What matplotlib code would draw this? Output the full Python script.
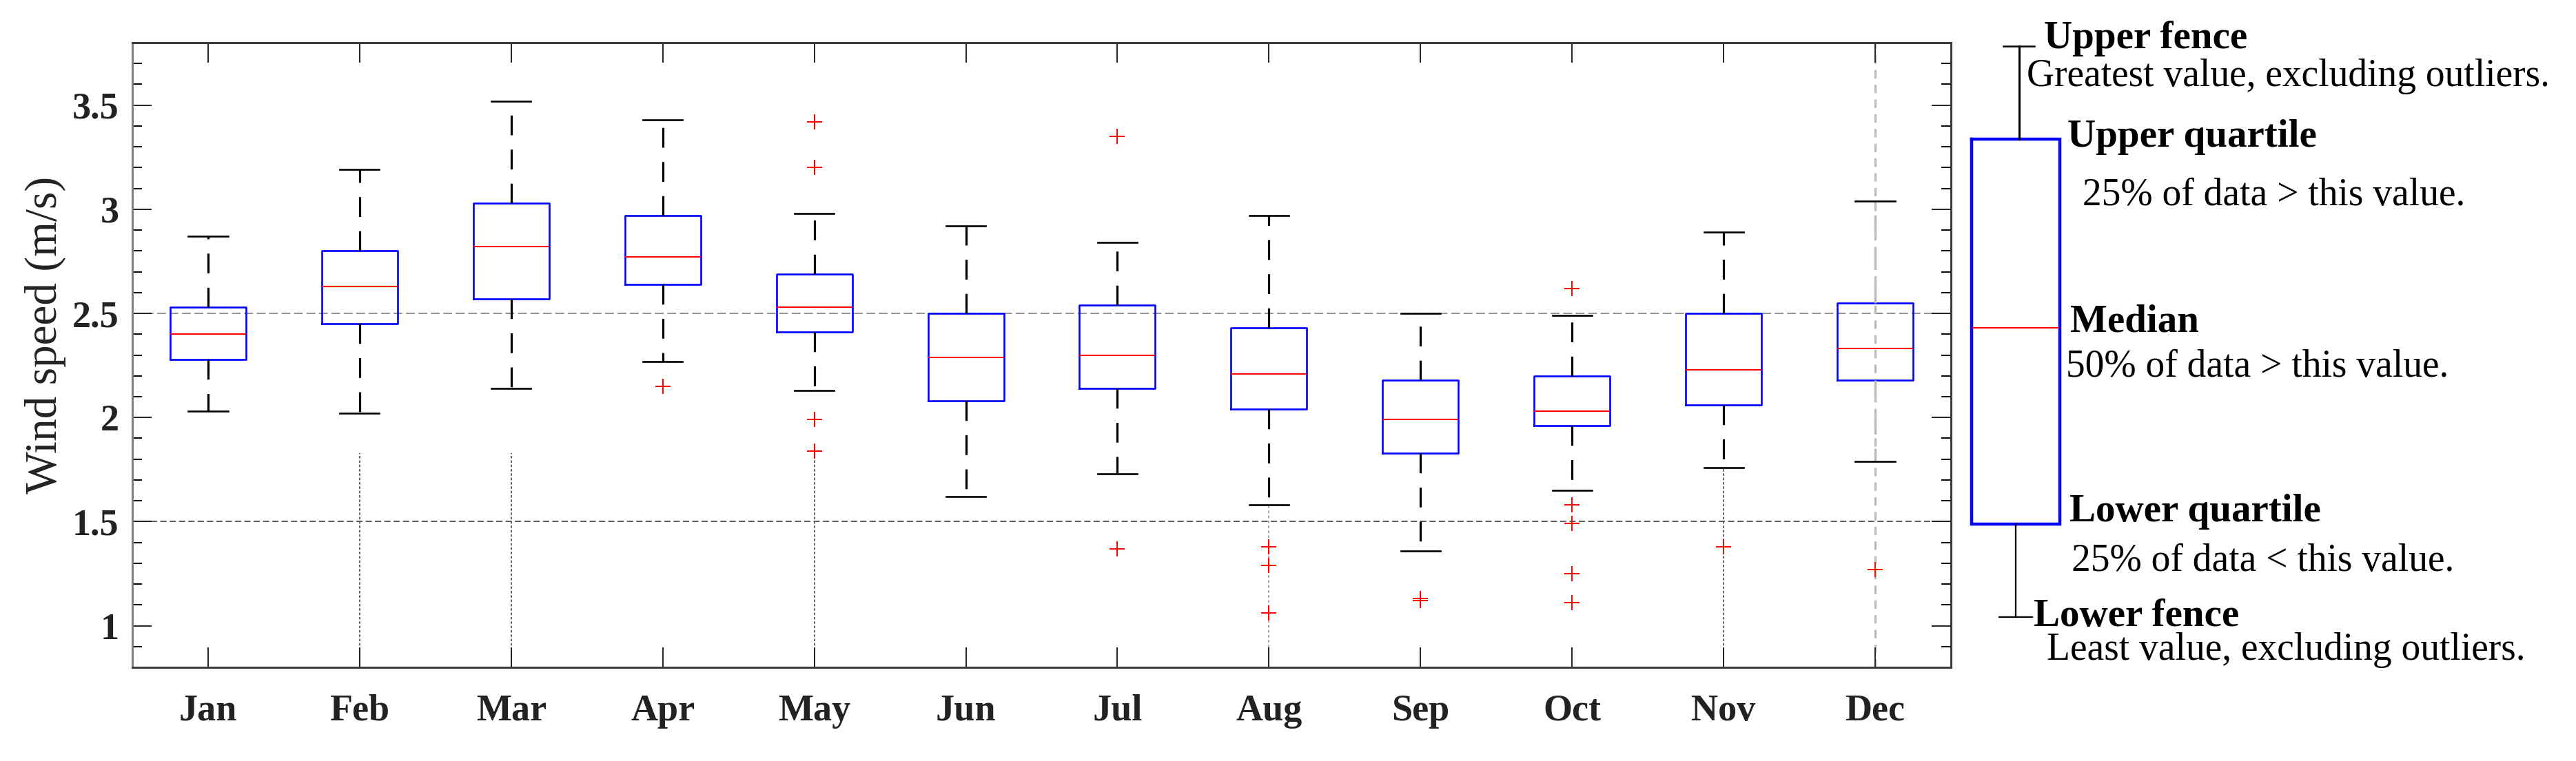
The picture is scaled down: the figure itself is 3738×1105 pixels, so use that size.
import matplotlib
matplotlib.use('Agg')
import matplotlib.pyplot as plt
from matplotlib.ticker import MultipleLocator, FormatStrFormatter

# ---- data (wind speed, m/s) ----
months = ['Jan', 'Feb', 'Mar', 'Apr', 'May', 'Jun',
          'Jul', 'Aug', 'Sep', 'Oct', 'Nov', 'Dec']
whisker_low = [2.03, 2.02, 2.14, 2.27, 2.13, 1.62, 1.73, 1.58, 1.36, 1.65, 1.76, 1.79]
q1 = [2.28, 2.45, 2.57, 2.64, 2.41, 2.08, 2.14, 2.04, 1.83, 1.96, 2.06, 2.18]
median = [2.40, 2.63, 2.82, 2.77, 2.53, 2.29, 2.30, 2.21, 1.99, 2.03, 2.23, 2.33]
q3 = [2.53, 2.80, 3.03, 2.97, 2.69, 2.50, 2.54, 2.43, 2.18, 2.20, 2.50, 2.55]
whisker_high = [2.87, 3.19, 3.52, 3.43, 2.98, 2.92, 2.84, 2.97, 2.50, 2.49, 2.89, 3.04]
outliers = [[], [], [], [2.15],
            [3.42, 3.20, 1.99, 1.84], [], [3.35, 1.37],
            [1.38, 1.29, 1.06], [1.13, 1.12],
            [2.62, 1.58, 1.49, 1.25, 1.11], [1.38], [1.27]]

# faint vertical traces that run down to the axis in the figure
trace_month = [2, 3, 5, 8, 11, 12]
trace_top = [1.83, 1.83, 1.84, 1.58, 1.76, 3.8]

ref_lines = [2.5, 1.5]

legend_items = [
    ("Upper fence", "Greatest value, excluding outliers."),
    ("Upper quartile", " 25% of data > this value."),
    ("Median", "50% of data > this value."),
    ("Lower quartile", "25% of data < this value."),
    ("Lower fence", "Least value, excluding outliers."),
]

W, H = 3738, 1105
SERIF = ['Liberation Serif', 'DejaVu Serif']
plt.rcParams['font.family'] = SERIF

fig = plt.figure(figsize=(W / 100, H / 100), dpi=100)
fig.patch.set_facecolor('white')
ax = fig.add_axes([192 / W, 1 - 969 / H, (2831 - 192) / W, (969 - 62) / H])

# reference lines
ax.axhline(ref_lines[0], color='#8a8a8a', lw=1.3, dashes=(7, 3), zorder=1)
ax.axhline(ref_lines[1], color='#505050', lw=1.3, dashes=(5, 2.5), zorder=1)

# traces
for m, top in zip(trace_month, trace_top):
    if m == 12:
        ax.plot([m, m], [0.8, top], color='#b8b8b8', lw=2.2, dashes=(4, 3), zorder=1)
    elif m == 8:
        ax.plot([m, m], [0.8, top], color='#a0a0a0', lw=1.3, dashes=(2, 2), zorder=1)
    else:
        ax.plot([m, m], [0.8, top], color='#555555', lw=1.3, dashes=(2, 1.5), zorder=1)

stats = []
for i, name in enumerate(months):
    stats.append({
        'label': name,
        'whislo': whisker_low[i], 'q1': q1[i], 'med': median[i],
        'q3': q3[i], 'whishi': whisker_high[i], 'fliers': outliers[i],
    })

art = ax.bxp(stats, positions=range(1, 13), widths=0.5, capwidths=0.26,
             boxprops=dict(color='#0000ff', lw=1.9),
             medianprops=dict(color='#ff0000', lw=1.5),
             whiskerprops=dict(color='black', lw=2.3, linestyle=(0, (9, 6.5))),
             capprops=dict(color='black', lw=1.9),
             flierprops=dict(marker='+', markeredgecolor='#ff0000',
                             markersize=16, markeredgewidth=1.4, linestyle='none'))
for w in art['whiskers'][22:24]:
    w.set_color('#b8b8b8')
    w.set_linewidth(2.3)

ax.set_xlim(0.5, 12.5)
ax.set_ylim(0.8, 3.8)
ax.set_xticks(range(1, 13))
ax.set_xticklabels(months)
ax.yaxis.set_major_locator(MultipleLocator(0.5))
ax.yaxis.set_minor_locator(MultipleLocator(0.1))
ax.yaxis.set_major_formatter(FormatStrFormatter('%g'))
ax.tick_params(axis='y', which='major', direction='in', length=20, width=1.4,
               left=True, right=True, pad=14, labelsize=39, colors='#222222')
ax.tick_params(axis='y', which='minor', direction='in', length=10, width=1.4,
               left=True, right=True)
ax.tick_params(axis='x', which='major', direction='in', length=21, width=1.4,
               top=True, bottom=True, pad=28, labelsize=39, colors='#222222')
for lab in ax.get_xticklabels() + ax.get_yticklabels():
    lab.set_fontweight('bold')
for s in ax.spines.values():
    s.set_linewidth(2.2)
    s.set_color('#3a3a3a')
ax.spines['left'].set_color('#808080')

ax.set_ylabel('Wind speed (m/s)', fontsize=47, color='#222222')
ax.yaxis.set_label_coords(-0.0364, 0.532)

# ---- explanatory box on the right (figure pixel coordinates) ----
lax = fig.add_axes([0, 0, 1, 1])
lax.set_xlim(0, W)
lax.set_ylim(H, 0)
lax.axis('off')

bx0, bx1, by0, by1, bmed = 2861, 2989, 202, 761, 476
lax.plot([bx0, bx1, bx1, bx0, bx0], [by0, by0, by1, by1, by0], color='#0000ff', lw=3.2,
         solid_joinstyle='miter')
lax.plot([bx0 + 2, bx1 - 2], [bmed, bmed], color='#ff0000', lw=1.5)
lax.plot([2930, 2930], [67, by0], color='black', lw=2.2)
lax.plot([2907, 2952], [67, 67], color='black', lw=1.8)
lax.plot([2925, 2925], [by1, 896], color='black', lw=1.6)
lax.plot([2901, 2949], [896, 896], color='black', lw=1.6)

head_pos = [(2966, 56), (3000, 199), (3004, 467), (3003, 743), (2951, 895)]
desc_pos = [(2941, 111), (3008, 284), (2998, 533), (3006, 815), (2970, 944)]
for (head, desc), (hx, hy), (dx, dy) in zip(legend_items, head_pos, desc_pos):
    lax.text(hx, hy, head, fontsize=41, fontweight='bold', ha='left', va='center',
             color='black')
    lax.text(dx, dy, desc, fontsize=40, ha='left', va='center', color='black')

fig.savefig('out.png', dpi=100, facecolor='white')
